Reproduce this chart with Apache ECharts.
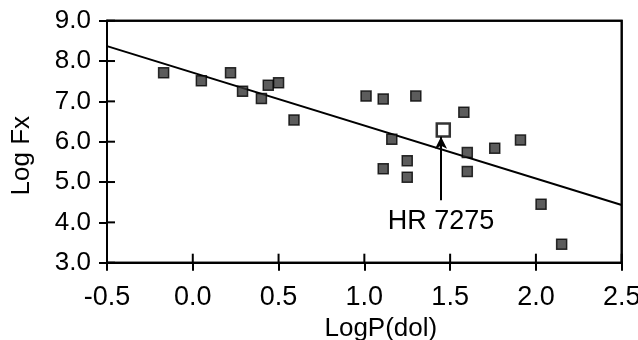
<!DOCTYPE html>
<html><head><meta charset="utf-8">
<script src="https://cdn.jsdelivr.net/npm/echarts@6/dist/echarts.min.js"></script>
<style>html,body{margin:0;padding:0;background:#fff}#c{width:638px;height:340px}</style>
</head><body><div id="c"></div>
<script>
// Data
var logP  = [-0.17, 0.05, 0.22, 0.29, 0.40, 0.44, 0.50, 0.59, 1.01, 1.11, 1.30, 1.58, 1.16, 1.76, 1.91, 1.60, 1.25, 1.11, 1.25, 1.60, 2.03, 2.15];
var logFx = [ 7.71, 7.51, 7.71, 7.25, 7.07, 7.40, 7.46, 6.54, 7.13, 7.06, 7.13, 6.73, 6.06, 5.84, 6.04, 5.73, 5.53, 5.33, 5.12, 5.26, 4.45, 3.46];
var hrStar = [1.46, 6.29];           // HR 7275 (open square)
var fitX = [-0.5, 2.5];              // regression line end points
var fitY = [8.37, 4.43];
var arrowFrom = [1.447, 4.55];
var arrowTo   = [1.447, 6.12];
var labelText = 'HR 7275';
var xTicks = [-0.5, 0.0, 0.5, 1.0, 1.5, 2.0, 2.5];
var yTicks = [3.0, 4.0, 5.0, 6.0, 7.0, 8.0, 9.0];

var pts = logP.map(function (x, i) { return [x, logFx[i]]; });
var fit = fitX.map(function (x, i) { return [x, fitY[i]]; });
var xMin = xTicks[0], xMax = xTicks[xTicks.length - 1];
var yMin = yTicks[0], yMax = yTicks[yTicks.length - 1];
var FONT = 'Liberation Sans';

var chart = echarts.init(document.getElementById('c'), null, {renderer: 'canvas'});
var ls = {color: '#000', width: 2};
chart.setOption({
  animation: false,
  backgroundColor: '#fff',
  grid: {left: 107, right: 16.3, top: 20.7, bottom: 77.3, containLabel: false, outerBoundsMode: 'none',
    show: true, borderColor: '#000', borderWidth: 2},
  xAxis: {
    type: 'value', min: xMin, max: xMax, interval: 0.5, position: 'bottom',
    splitLine: {show: false},
    axisLine: {show: true, onZero: false, lineStyle: ls},
    axisTick: {show: true, length: 8, lineStyle: ls},
    axisLabel: {margin: 21, color: '#000', fontFamily: FONT, fontSize: 27,
      formatter: function (v) { return v.toFixed(1); }},
    name: 'LogP(dol)', nameLocation: 'middle', nameGap: 45,
    nameTextStyle: {color: '#000', fontFamily: FONT, fontSize: 26, padding: [0, 0, 0, 33]}
  },
  yAxis: {
    type: 'value', min: yMin, max: yMax, interval: 1, position: 'left',
    splitLine: {show: false},
    axisLine: {show: true, onZero: false, lineStyle: ls},
    axisTick: {show: true, length: 8, lineStyle: ls},
    axisLabel: {margin: 16, color: '#000', fontFamily: FONT, fontSize: 26,
      formatter: function (v) { return v.toFixed(1); }},
    name: 'Log Fx', nameLocation: 'middle', nameGap: 72, nameRotate: 90,
    nameTextStyle: {color: '#000', fontFamily: FONT, fontSize: 26, padding: [0, 28, 0, 0]}
  },
  series: [
    {
      type: 'line', data: fit, symbol: 'none', silent: true,
      lineStyle: {color: '#000', width: 2}, z: 2
    },
    {
      type: 'scatter', data: pts, symbol: 'rect', symbolSize: 10,
      itemStyle: {color: '#333', borderColor: '#000', borderWidth: 1.5}, z: 3,
      markLine: {
        silent: true, symbol: ['none', 'arrow'], symbolSize: [9, 12],
        lineStyle: {color: '#000', width: 2, type: 'solid'},
        label: {show: true, position: 'start', formatter: labelText, distance: 8,
          color: '#000', fontFamily: FONT, fontSize: 27},
        data: [[{coord: arrowFrom}, {coord: arrowTo}]]
      }
    },
    {
      type: 'scatter', data: [hrStar], symbol: 'rect', symbolSize: 13,
      itemStyle: {color: 'rgba(255,255,255,0)', borderColor: '#000', borderWidth: 2.5}, z: 4
    }
  ]
});

// Frame and inner half of the ticks, positioned through the chart's own scales
var toPx = function (p) { return chart.convertToPixel({gridIndex: 0}, p); };
var bl = toPx([xMin, yMin]), tr = toPx([xMax, yMax]);
var elems = [{
  type: 'rect', z: 100, silent: true,
  shape: {x: bl[0], y: tr[1], width: tr[0] - bl[0], height: bl[1] - tr[1]},
  style: {fill: null, stroke: '#000', lineWidth: 2}
}];
xTicks.forEach(function (t) {
  var p = toPx([t, yMin]);
  elems.push({type: 'line', z: 100, silent: true,
    shape: {x1: p[0], y1: p[1], x2: p[0], y2: p[1] - 9},
    style: {stroke: '#000', lineWidth: 2}});
});
yTicks.forEach(function (t) {
  var p = toPx([xMin, t]);
  elems.push({type: 'line', z: 100, silent: true,
    shape: {x1: p[0], y1: p[1], x2: p[0] + 8, y2: p[1]},
    style: {stroke: '#000', lineWidth: 2}});
});
chart.setOption({graphic: {elements: elems}});
</script></body></html>
